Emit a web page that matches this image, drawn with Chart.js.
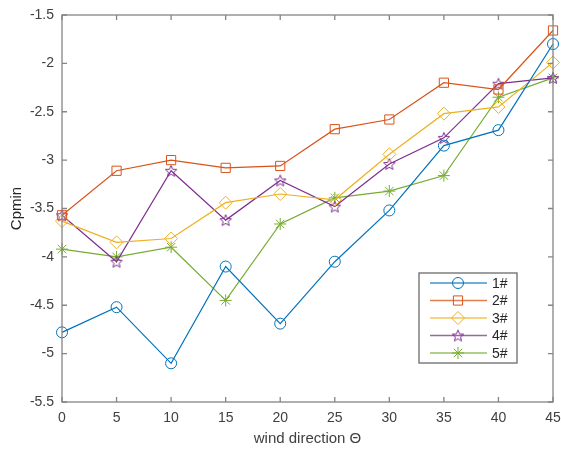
<!DOCTYPE html>
<html>
<head>
<meta charset="utf-8">
<script src="https://cdn.jsdelivr.net/npm/chart.js"></script>
<style>
  html, body { margin: 0; padding: 0; background: #fff; }
  #wrap { width: 561px; height: 450px; }
</style>
</head>
<body>
<div id="wrap"><canvas id="cpChart" width="561" height="450"></canvas></div>
<script>
// wind direction (deg)
var windDirections = [0, 5, 10, 15, 20, 25, 30, 35, 40, 45];
var seriesLabels = ["1#", "2#", "3#", "4#", "5#"];
// Cpmin for each point
var cp1 = [-4.78, -4.52, -5.10, -4.10, -4.69, -4.05, -3.52, -2.85, -2.69, -1.80];
var cp2 = [-3.57, -3.11, -3.00, -3.08, -3.06, -2.68, -2.58, -2.20, -2.27, -1.66];
var cp3 = [-3.63, -3.85, -3.81, -3.44, -3.35, -3.41, -2.94, -2.52, -2.45, -1.99];
var cp4 = [-3.57, -4.05, -3.11, -3.62, -3.21, -3.48, -3.04, -2.77, -2.21, -2.15];
var cp5 = [-3.92, -4.00, -3.90, -4.45, -3.66, -3.39, -3.32, -3.16, -2.35, -2.15];
var colors = ["#0072BD", "#D95319", "#EDB120", "#7E2F8E", "#77AC30"];

var FONT = "'Liberation Sans', Arial, sans-serif";

// pentagram marker (chart.js has no 5-point star)
function makePentagram(color, r) {
  var c = document.createElement("canvas");
  var s = Math.ceil(2 * r + 4);
  c.width = s; c.height = s;
  var g = c.getContext("2d");
  g.strokeStyle = color;
  g.lineWidth = 1;
  g.beginPath();
  for (var i = 0; i < 10; i++) {
    var rr = i % 2 === 0 ? r : r * 0.45;
    var a = -Math.PI / 2 + i * Math.PI / 5;
    var px = s / 2 + rr * Math.cos(a), py = s / 2 + 0.6 + rr * Math.sin(a);
    if (i === 0) g.moveTo(px, py); else g.lineTo(px, py);
  }
  g.closePath();
  g.stroke();
  return c;
}

var pointStyles = ["circle", "rect", "rectRot", makePentagram(colors[3], 6), "star"];
var pointRadii = [5.5, 6.5, 6.5, 6, 6];

function toPoints(arr) {
  return arr.map(function (v, i) { return { x: windDirections[i], y: v }; });
}

var allSeries = [cp1, cp2, cp3, cp4, cp5];
var datasets = allSeries.map(function (s, i) {
  return {
    label: seriesLabels[i],
    data: toPoints(s),
    borderColor: colors[i],
    backgroundColor: "rgba(0,0,0,0)",
    borderWidth: 1.2,
    pointStyle: pointStyles[i],
    pointRadius: pointRadii[i],
    pointBorderWidth: 1,
    pointBorderColor: colors[i],
    pointBackgroundColor: "rgba(0,0,0,0)",
    tension: 0,
    clip: false
  };
});

// box, inward ticks and matlab-style legend
var matlabAxes = {
  id: "matlabAxes",
  afterDraw: function (chart) {
    var g = chart.ctx, a = chart.chartArea;
    var xs = chart.scales.x, ys = chart.scales.y;
    g.save();
    g.strokeStyle = "#858585";
    g.lineWidth = 1.3;
    g.strokeRect(a.left, a.top, a.right - a.left, a.bottom - a.top);
    g.beginPath();
    xs.ticks.forEach(function (t) {
      var px = xs.getPixelForValue(t.value);
      g.moveTo(px, a.bottom); g.lineTo(px, a.bottom - 5);
      g.moveTo(px, a.top); g.lineTo(px, a.top + 5);
    });
    ys.ticks.forEach(function (t) {
      var py = ys.getPixelForValue(t.value);
      g.moveTo(a.left, py); g.lineTo(a.left + 5, py);
      g.moveTo(a.right, py); g.lineTo(a.right - 5, py);
    });
    g.stroke();

    // legend
    var lx = 419, ly = 273, lw = 98, lh = 90;
    g.fillStyle = "#fff";
    g.fillRect(lx, ly, lw, lh);
    g.strokeStyle = "#6b6b6b";
    g.lineWidth = 1.3;
    g.strokeRect(lx, ly, lw, lh);
    chart.data.datasets.forEach(function (ds, i) {
      var yy = ly + 10 + i * 17.5;
      g.strokeStyle = ds.borderColor;
      g.lineWidth = 1.5;
      g.globalAlpha = 0.75;
      g.beginPath();
      g.moveTo(lx + 11, yy); g.lineTo(lx + 68, yy);
      g.stroke();
      g.globalAlpha = 1;
      g.lineWidth = 1;
      g.fillStyle = "rgba(0,0,0,0)";
      g.strokeStyle = ds.borderColor;
      Chart.helpers.drawPoint(g, {
        pointStyle: ds.pointStyle,
        radius: ds.pointRadius,
        borderWidth: 1,
        rotation: 0
      }, lx + 39, yy);
      g.fillStyle = "#262626";
      g.font = "14px " + FONT;
      g.textAlign = "left";
      g.textBaseline = "middle";
      g.fillText(ds.label, lx + 73, yy + 1);
    });
    g.restore();
  }
};

var ctx = document.getElementById("cpChart").getContext("2d");
var cpChart = new Chart(ctx, {
  type: "line",
  data: { datasets: datasets },
  options: {
    responsive: false,
    animation: false,
    events: [],
    layout: { padding: { left: 8, top: 15, right: 8, bottom: 0 } },
    plugins: { legend: { display: false }, tooltip: { enabled: false } },
    scales: {
      x: {
        type: "linear",
        min: 0, max: 45,
        ticks: { stepSize: 5, color: "#404040", padding: 0, maxRotation: 0,
                 font: { family: FONT, size: 14 } },
        grid: { display: false },
        border: { display: false },
        title: { display: true, text: "wind direction \u0398", color: "#404040", padding: { top: 6, bottom: 2 },
                 font: { family: FONT, size: 15 } },
        afterFit: function (s) { s.height = 48; }
      },
      y: {
        min: -5.5, max: -1.5,
        ticks: { stepSize: 0.5, color: "#404040", padding: 0,
                 font: { family: FONT, size: 14 },
                 callback: function (v) { return String(Math.round(v * 10) / 10); } },
        grid: { display: false },
        border: { display: false },
        title: { display: true, text: "Cpmin", color: "#262626", padding: { top: 0, bottom: 2 },
                 font: { family: FONT, size: 15 } },
        afterFit: function (s) { s.width = 54; }
      }
    }
  },
  plugins: [matlabAxes]
});
</script>
</body>
</html>
